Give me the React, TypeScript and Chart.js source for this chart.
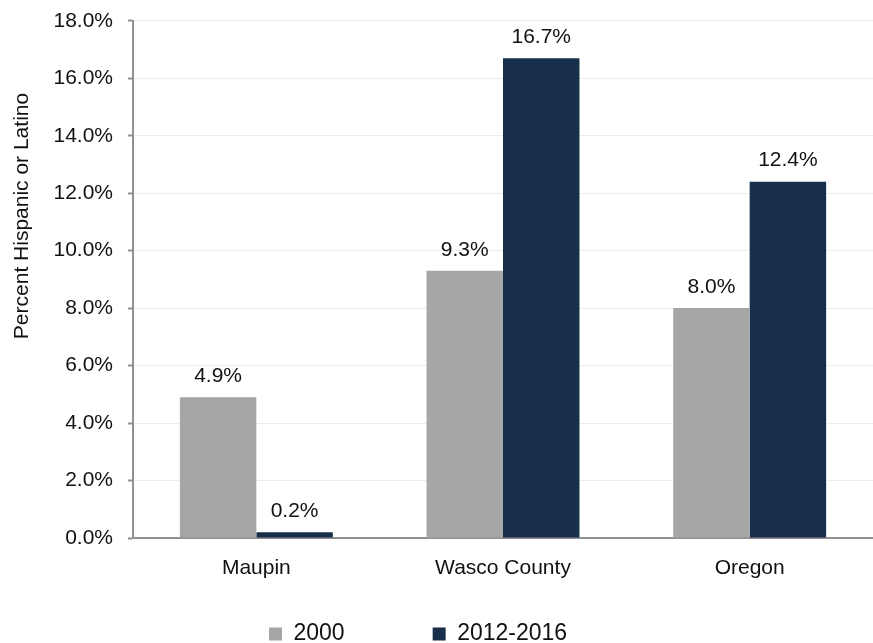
import React, { useEffect, useRef } from "react";
import { Chart, registerables } from "chart.js";

Chart.register(...registerables);

const categories = ["Maupin", "Wasco County", "Oregon"];
const seriesNames = ["2000", "2012-2016"];
const values2000 = [4.9, 9.3, 8.0];
const values2012 = [0.2, 16.7, 12.4];
const yMin = 0;
const yMax = 18;
const yStep = 2;
const yAxisTitle = "Percent Hispanic or Latino";

const COLORS = ["#A6A6A6", "#172F4A"];
const FONT = "'Liberation Sans', Arial, sans-serif";
const TEXT = "#111111";
const AXIS = "#919191";

const fmt = (v: number) => `${v.toFixed(1)}%`;

const valueLabels = {
  id: "valueLabels",
  afterDatasetsDraw(chart: any) {
    const ctx = chart.ctx;
    ctx.save();
    ctx.font = `21px ${FONT}`;
    ctx.fillStyle = TEXT;
    ctx.textAlign = "center";
    ctx.textBaseline = "middle";
    chart.data.datasets.forEach((ds: any, di: number) => {
      const meta = chart.getDatasetMeta(di);
      meta.data.forEach((el: any, i: number) => {
        ctx.fillText(fmt(ds.data[i]), el.x, el.y - 21);
      });
    });
    ctx.restore();
  },
};

const sideTitle = {
  id: "sideTitle",
  afterDraw(chart: any) {
    const ctx = chart.ctx;
    ctx.save();
    ctx.translate(22, 216);
    ctx.rotate(-Math.PI / 2);
    ctx.font = `21px ${FONT}`;
    ctx.fillStyle = TEXT;
    ctx.textAlign = "center";
    ctx.textBaseline = "middle";
    ctx.fillText(yAxisTitle, 0, 0);
    ctx.restore();
  },
};

const legendPlace = {
  id: "legendPlace",
  afterLayout(chart: any) {
    const lg = chart.legend;
    if (!lg) return;
    const pad = lg.options.labels.padding;
    const itemH = 23;
    lg.top = 634 - pad - itemH / 2;
    lg.bottom = 643;
    lg.height = lg.bottom - lg.top;
    lg.left = 269 - pad;
    lg.right = 873;
    lg.width = lg.right - lg.left;
  },
};

export default function App() {
  const ref = useRef<HTMLCanvasElement | null>(null);

  useEffect(() => {
    if (!ref.current) return;
    const chart = new Chart(ref.current, {
      type: "bar",
      data: {
        labels: categories,
        datasets: [
          {
            label: seriesNames[0],
            data: values2000,
            backgroundColor: COLORS[0],
            categoryPercentage: 0.62,
            barPercentage: 1.0,
          },
          {
            label: seriesNames[1],
            data: values2012,
            backgroundColor: COLORS[1],
            categoryPercentage: 0.62,
            barPercentage: 1.0,
          },
        ],
      },
      options: {
        responsive: false,
        animation: false,
        devicePixelRatio: 1,
        layout: { padding: { top: 10, left: 0, right: 0, bottom: 0 } },
        plugins: {
          tooltip: { enabled: false },
          legend: {
            position: "bottom",
            align: "start",
            maxHeight: 40,
            labels: {
              boxWidth: 13,
              boxHeight: 13,
              padding: 88,
              color: TEXT,
              font: { family: FONT, size: 23 },
            },
          },
        },
        scales: {
          x: {
            grid: { display: false, drawTicks: false },
            border: { display: true, color: AXIS, width: 2 },
            ticks: {
              color: TEXT,
              padding: 18,
              font: { family: FONT, size: 21 },
            },
            afterFit(scale: any) {
              scale.height = 65;
            },
          },
          y: {
            min: yMin,
            max: yMax,
            grid: {
              color: "#ececec",
              lineWidth: 1,
              drawTicks: true,
              tickLength: 5,
              tickColor: AXIS,
              tickWidth: 2,
            },
            border: { display: true, color: AXIS, width: 2 },
            ticks: {
              stepSize: yStep,
              color: TEXT,
              padding: 15,
              font: { family: FONT, size: 21, lineHeight: 0.55 },
              callback: (v: any) => fmt(Number(v)),
            },
            afterFit(scale: any) {
              scale.width = 133;
            },
          },
        },
      },
      plugins: [valueLabels, sideTitle, legendPlace],
    } as any);
    return () => chart.destroy();
  }, []);

  return (
    <div style={{ position: "absolute", left: 0, top: 0, width: 873, height: 643, background: "#fff" }}>
      <canvas ref={ref} width={873} height={643} style={{ display: "block" }} />
    </div>
  );
}
